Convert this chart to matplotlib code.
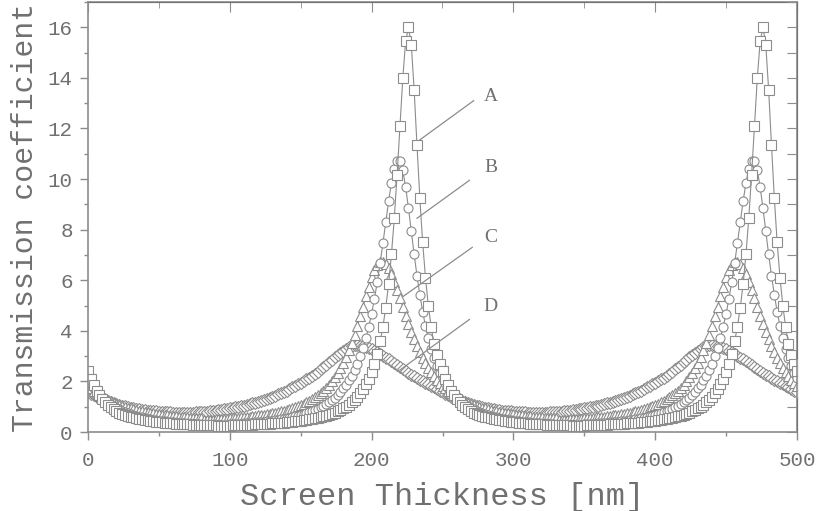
import numpy as np
import matplotlib
matplotlib.use('Agg')
import matplotlib.pyplot as plt
from matplotlib.ticker import MultipleLocator

# one period (250 nm) of each curve, sampled every 2 nm from 0 to 248 nm
a_period = [2.40, 2.10, 1.85, 1.64, 1.46, 1.31, 1.18, 1.07, 0.98, 0.90,
            0.83, 0.77, 0.72, 0.68, 0.64, 0.61, 0.58, 0.55, 0.52, 0.50,
            0.48, 0.46, 0.44, 0.43, 0.41, 0.40, 0.38, 0.37, 0.36, 0.35,
            0.34, 0.33, 0.33, 0.32, 0.31, 0.30, 0.30, 0.29, 0.29, 0.28,
            0.28, 0.27, 0.27, 0.26, 0.26, 0.26, 0.25, 0.25, 0.24, 0.24,
            0.24, 0.26, 0.27, 0.27, 0.27, 0.28, 0.28, 0.29, 0.29, 0.30,
            0.30, 0.31, 0.32, 0.32, 0.33, 0.34, 0.35, 0.35, 0.36, 0.37,
            0.38, 0.39, 0.41, 0.42, 0.43, 0.45, 0.46, 0.48, 0.50, 0.52,
            0.54, 0.57, 0.59, 0.62, 0.65, 0.69, 0.73, 0.77, 0.82, 0.87,
            0.94, 1.00, 1.08, 1.17, 1.27, 1.39, 1.53, 1.69, 1.88, 2.10,
            2.37, 2.70, 3.09, 3.58, 4.17, 4.92, 5.86, 7.02, 8.46, 10.18,
            12.10, 13.99, 15.44, 16.00, 15.30, 13.53, 11.34, 9.26, 7.50, 6.10,
            5.00, 4.15, 3.49, 3.05, 2.70]
b_period = [2.12, 1.92, 1.75, 1.60, 1.47, 1.36, 1.26, 1.17, 1.08, 1.01,
            0.95, 0.89, 0.84, 0.79, 0.75, 0.71, 0.67, 0.64, 0.61, 0.58,
            0.56, 0.53, 0.51, 0.49, 0.47, 0.45, 0.44, 0.42, 0.41, 0.39,
            0.38, 0.37, 0.36, 0.35, 0.34, 0.33, 0.32, 0.31, 0.31, 0.30,
            0.29, 0.28, 0.28, 0.27, 0.27, 0.26, 0.26, 0.28, 0.29, 0.29,
            0.30, 0.31, 0.31, 0.32, 0.33, 0.34, 0.35, 0.36, 0.37, 0.38,
            0.39, 0.40, 0.41, 0.43, 0.44, 0.45, 0.47, 0.49, 0.51, 0.52,
            0.55, 0.57, 0.59, 0.62, 0.65, 0.68, 0.71, 0.74, 0.78, 0.83,
            0.87, 0.92, 0.98, 1.04, 1.11, 1.18, 1.27, 1.36, 1.47, 1.58,
            1.72, 1.87, 2.04, 2.23, 2.45, 2.70, 3.00, 3.33, 3.72, 4.17,
            4.68, 5.27, 5.93, 6.67, 7.47, 8.31, 9.13, 9.85, 10.41, 10.71,
            10.70, 10.34, 9.69, 8.85, 7.93, 7.02, 6.18, 5.43, 4.76, 4.19,
            3.70, 3.28, 2.92, 2.61, 2.35]
c_period = [1.83, 1.73, 1.63, 1.55, 1.47, 1.40, 1.33, 1.27, 1.22, 1.16,
            1.12, 1.07, 1.03, 1.00, 0.96, 0.93, 0.90, 0.87, 0.84, 0.82,
            0.80, 0.78, 0.76, 0.74, 0.72, 0.70, 0.69, 0.67, 0.66, 0.64,
            0.63, 0.62, 0.61, 0.60, 0.59, 0.58, 0.57, 0.56, 0.55, 0.54,
            0.54, 0.48, 0.48, 0.49, 0.49, 0.50, 0.51, 0.52, 0.52, 0.53,
            0.54, 0.55, 0.56, 0.57, 0.58, 0.59, 0.60, 0.61, 0.63, 0.64,
            0.66, 0.67, 0.69, 0.71, 0.73, 0.75, 0.77, 0.79, 0.82, 0.85,
            0.88, 0.91, 0.95, 0.98, 1.03, 1.07, 1.12, 1.18, 1.24, 1.30,
            1.37, 1.45, 1.54, 1.64, 1.75, 1.87, 2.01, 2.16, 2.33, 2.52,
            2.73, 2.97, 3.23, 3.53, 3.85, 4.20, 4.57, 4.96, 5.36, 5.75,
            6.11, 6.40, 6.62, 6.73, 6.74, 6.65, 6.48, 6.24, 5.95, 5.63,
            5.29, 4.94, 4.60, 4.27, 3.95, 3.66, 3.39, 3.15, 2.92, 2.72,
            2.53, 2.36, 2.21, 2.07, 1.95]
d_period = [1.58, 1.52, 1.46, 1.40, 1.35, 1.30, 1.25, 1.21, 1.17, 1.13,
            1.10, 1.07, 1.04, 1.01, 0.98, 0.96, 0.94, 0.92, 0.90, 0.88,
            0.86, 0.85, 0.84, 0.83, 0.82, 0.81, 0.80, 0.79, 0.78, 0.78,
            0.77, 0.77, 0.76, 0.76, 0.76, 0.76, 0.77, 0.77, 0.78, 0.78,
            0.79, 0.80, 0.81, 0.82, 0.83, 0.85, 0.86, 0.88, 0.90, 0.92,
            0.94, 0.96, 0.98, 1.00, 1.02, 1.04, 1.07, 1.10, 1.13, 1.15,
            1.18, 1.22, 1.26, 1.30, 1.35, 1.39, 1.44, 1.49, 1.54, 1.59,
            1.64, 1.70, 1.76, 1.82, 1.88, 1.94, 2.01, 2.08, 2.15, 2.23,
            2.31, 2.39, 2.48, 2.57, 2.66, 2.75, 2.85, 2.95, 3.05, 3.14,
            3.22, 3.29, 3.35, 3.39, 3.42, 3.42, 3.41, 3.39, 3.36, 3.32,
            3.27, 3.21, 3.15, 3.08, 3.01, 2.94, 2.87, 2.80, 2.72, 2.64,
            2.56, 2.48, 2.41, 2.34, 2.27, 2.20, 2.13, 2.07, 2.01, 1.95,
            1.89, 1.83, 1.77, 1.71, 1.64]

# the response repeats with the 250 nm period over 0..500 nm
thickness = np.arange(0, 501, 2)
curve_a = a_period + a_period + a_period[:1]
curve_b = b_period + b_period + b_period[:1]
curve_c = c_period + c_period + c_period[:1]
curve_d = d_period + d_period + d_period[:1]

labels = ['A', 'B', 'C', 'D']
label_pos = [(284, 13.25), (284, 10.45), (284, 7.7), (284, 4.95)]
arrow_from = [(272, 13.1), (269, 9.95), (271, 7.3), (269, 4.45)]
arrow_to = [(234, 11.55), (232, 8.45), (222, 5.35), (220, 2.45)]

gray = '#8c8c8c'
text_gray = '#707070'
mono = 'Liberation Mono'

fig = plt.figure(figsize=(8.17, 5.11), dpi=100)
ax = fig.add_axes([88 / 817, 79 / 511, 709 / 817, 430 / 511])

style = dict(color=gray, lw=0.8, mfc='white', mec=gray, mew=0.8)
ax.plot(thickness, curve_d, marker='D', ms=6, **style)
ax.plot(thickness, curve_c, marker='^', ms=7, **style)
ax.plot(thickness, curve_b, marker='o', ms=6.5, **style)
ax.plot(thickness, curve_a, marker='s', ms=6.5, **style)

for lab, pos, p0, p1 in zip(labels, label_pos, arrow_from, arrow_to):
    ax.plot([p0[0], p1[0]], [p0[1], p1[1]], color=gray, lw=0.9)
    ax.text(pos[0], pos[1], lab, family='Liberation Serif', fontsize=14,
            color=text_gray, ha='center', va='center')

ax.set_xlim(0, 500)
ax.set_ylim(0, 17)
ax.xaxis.set_major_locator(MultipleLocator(100))
ax.xaxis.set_minor_locator(MultipleLocator(50))
ax.yaxis.set_major_locator(MultipleLocator(2))
ax.yaxis.set_minor_locator(MultipleLocator(1))

for side in ['left', 'bottom', 'top', 'right']:
    ax.spines[side].set_color(gray)
    ax.spines[side].set_linewidth(1.2)
ax.tick_params(which='both', direction='out', color=gray, width=1,
               labelcolor=text_gray, labelsize=15)
ax.tick_params(which='major', length=6)
ax.tick_params(which='minor', length=3)
ax.tick_params(axis='x', pad=8)
ax.tick_params(axis='y', pad=5)
for t in ax.get_xticklabels() + ax.get_yticklabels():
    t.set_family(mono)

# inward ticks on the top and right frame
top = ax.secondary_xaxis('top')
top.xaxis.set_major_locator(MultipleLocator(100))
top.xaxis.set_minor_locator(MultipleLocator(50))
top.tick_params(which='both', direction='in', color=gray, labeltop=False)
top.tick_params(which='major', length=7)
top.tick_params(which='minor', length=4)
right = ax.secondary_yaxis('right')
right.yaxis.set_major_locator(MultipleLocator(1))
right.tick_params(which='both', direction='in', color=gray, length=7,
                  labelright=False)

ax.set_xlabel('Screen Thickness [nm]', family=mono, fontsize=23,
              color=text_gray, labelpad=8)
ax.set_ylabel('Transmission coefficient', family=mono, fontsize=21.5,
              color=text_gray, labelpad=6)

fig.savefig('out.png', dpi=100)
